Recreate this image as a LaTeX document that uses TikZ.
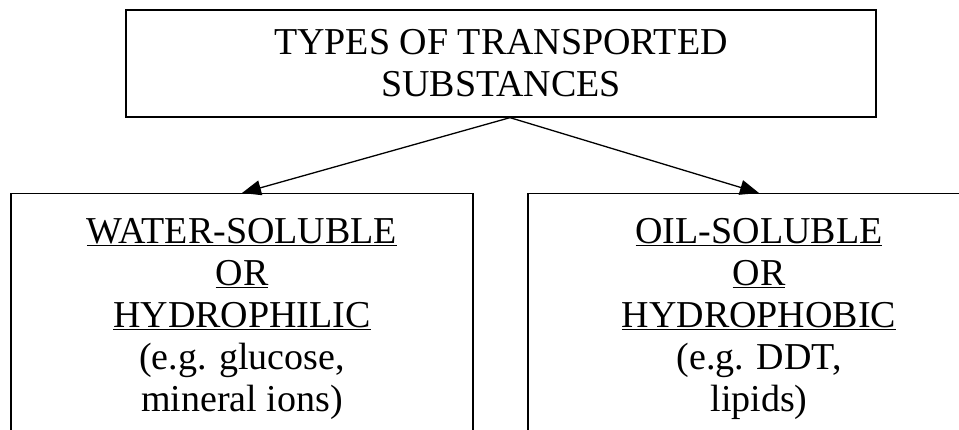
\documentclass[tikz,border=0pt]{standalone}
\usepackage{fontspec}
\setmainfont{Liberation Serif}
\usetikzlibrary{arrows.meta}

\begin{document}
\begin{tikzpicture}[
    x=1pt, y=-1pt,
    every node/.style={draw, line width=1.3pt, align=center, inner sep=0pt,
        font=\fontsize{38}{42}\selectfont},
    kind/.style={anchor=north, minimum width=462pt, minimum height=250pt},
    arr/.style={line width=1.3pt, -{Triangle[length=19pt,width=15pt]}}
]
    \path[use as bounding box, clip] (0,0) rectangle (959,430);

    % heading
    \node[minimum width=750pt, minimum height=107pt] (top) at (501,63.5)
        {TYPES OF TRANSPORTED\\SUBSTANCES};
    \coordinate (apex) at ([xshift=9pt]top.south);

    % the two kinds
    \node[kind] (water) at (242,193)
        {\underline{WATER-SOLUBLE}\\\underline{OR}\\\underline{HYDROPHILIC}\\(e.g. glucose,\\mineral ions)};
    \node[kind] (oil) at (759,193)
        {\underline{OIL-SOLUBLE}\\\underline{OR}\\\underline{HYDROPHOBIC}\\(e.g. DDT,\\lipids)};

    \draw[arr] (apex) -- (water.north);
    \draw[arr] (apex) -- (oil.north);
\end{tikzpicture}
\end{document}
